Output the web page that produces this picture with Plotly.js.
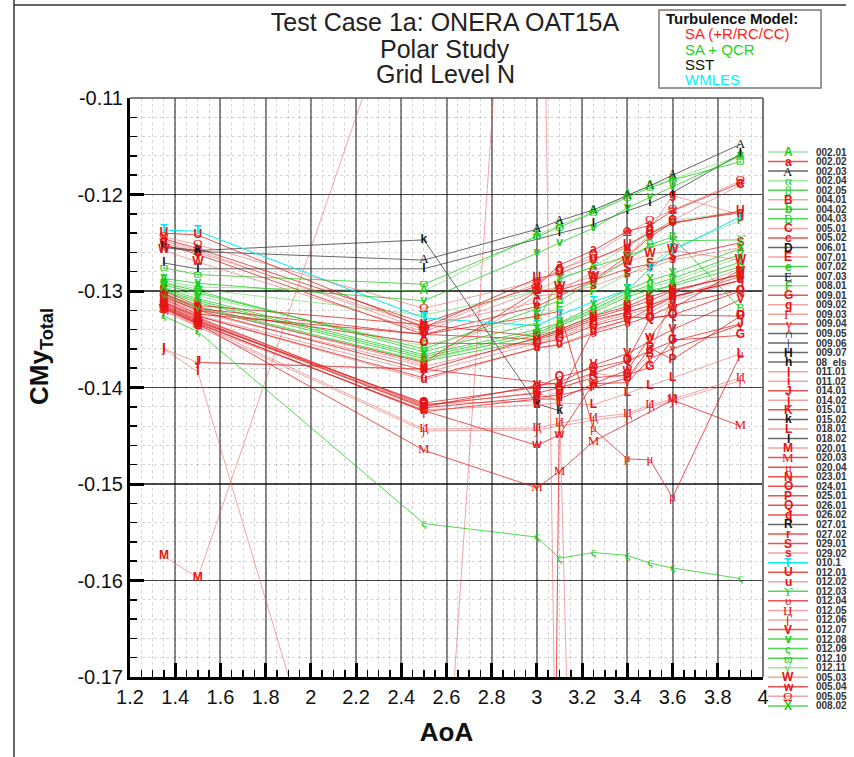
<!DOCTYPE html>
<html><head><meta charset="utf-8">
<script src="https://cdn.plot.ly/plotly-3.0.1.min.js"></script>
<style>body{margin:0;background:#fff}#chart{width:854px;height:757px}</style>
</head><body><div id="chart"></div>
<script>
// ---------- axes ----------
const aoa = [1.35, 1.5, 2.5, 3.0, 3.1, 3.25, 3.4, 3.5, 3.6, 3.9];
const xTickVals = [1.2,1.4,1.6,1.8,2.0,2.2,2.4,2.6,2.8,3.0,3.2,3.4,3.6,3.8,4.0];
const xTickText = ['1.2','1.4','1.6','1.8','2','2.2','2.4','2.6','2.8','3','3.2','3.4','3.6','3.8','4'];
const yTickVals = [-0.17,-0.16,-0.15,-0.14,-0.13,-0.12,-0.11];
const yTickText = ['-0.17','-0.16','-0.15','-0.14','-0.13','-0.12','-0.11'];

// ---------- legend entries ----------
const caseIds = ['002.01','002.02','002.03','002.04','002.05','004.01','004.02','004.03','005.01','005.02',
 '006.01','007.01','007.02','007.03','008.01','009.01','009.02','009.03','009.04','009.05',
 '009.06','009.07','08_els','011.01','011.02','014.01','014.02','015.01','015.02','018.01',
 '018.02','020.01','020.03','020.04','023.01','024.01','025.01','026.01','026.02','027.01',
 '027.02','029.01','029.02','010.1','012.01','012.02','012.03','012.04','012.05','012.06',
 '012.07','012.08','012.09','012.10','012.11','005.03','005.04','005.05','008.02'];
const glyphs = ['A','a','Α','α','β','B','b','Β','C','c',
 'D','E','e','Ε','F','G','g','Γ','γ','∩',
 '|','H','h','I','i','J','j','K','k','L',
 'l','M','Μ','μ','N','O','P','Q','q','R',
 'r','S','s','T','U','u','ϒ','υ','Ц','∫',
 'V','v','ς','ϖ','√','W','w','Ω','X'];
const models = ['QCR','SA','SST','QCR','QCR','SA','QCR','QCR','SA','SA',
 'SST','SA','QCR','SST','QCR','SA','SA','SA','SA','SST',
 'SST','SST','SST','SA','SA','SA','SA','SA','SST','SA',
 'SST','SA','SA','SA','SA','SA','SA','SA','SA','SST',
 'SA','SA','SA','WM','SA','SA','QCR','SA','SA','SA',
 'SA','QCR','QCR','QCR','QCR','SA','SA','SA','QCR'];
const shades = ['l','d','d','l','d','l','d','d','l','d',
 'd','l','d','d','l','d','l','l','d','d',
 'd','d','d','l','l','d','l','d','d','l',
 'd','l','d','d','d','d','d','d','d','d',
 'd','d','l','d','d','l','d','d','l','l',
 'd','d','d','d','l','l','d','l','d'];

// ---------- CMy values (null = no point) ----------
const N = null;
const cmy_002_01 = [-0.1289,-0.1296,-0.1300,-0.1242,-0.1232,-0.1218,-0.1201,-0.1191,-0.1184,-0.1160];
const cmy_002_02 = [-0.1246,-0.1256,-0.1333,-0.1295,-0.1273,-0.1258,-0.1238,-0.1232,-0.1217,-0.1188];
const cmy_002_03 = [-0.1255,-0.1259,-0.1268,-0.1236,-0.1227,-0.1216,-0.1201,-0.1191,-0.1180,-0.1148];
const cmy_002_04 = [-0.1291,-0.1298,-0.1325,-0.1300,-0.1288,-0.1275,-0.1254,-0.1240,-0.1227,-0.1218];
const cmy_002_05 = [-0.1299,-0.1310,-0.1368,-0.1343,-0.1334,-0.1319,-0.1302,-0.1294,-0.1287,-0.1262];
const cmy_004_01 = [-0.1313,-0.1329,-0.1417,-0.1414,-0.1404,-0.1385,-0.1390,-0.1365,-0.1306,-0.1285];
const cmy_004_02 = [-0.1300,-0.1312,-0.1370,-0.1346,-0.1336,-0.1322,-0.1306,-0.1299,-0.1295,-0.1275];
const cmy_004_03 = [-0.1294,-0.1302,-0.1360,-0.1318,-0.1310,-0.1290,-0.1268,-0.1252,-0.1244,-0.1318];
const cmy_005_01 = [-0.1250,-0.1260,-0.1336,-0.1312,-0.1300,-0.1280,-0.1262,-0.1242,-0.1227,-0.1190];
const cmy_005_02 = [-0.1252,-0.1262,-0.1345,-0.1316,-0.1305,-0.1289,-0.1264,-0.1244,-0.1229,-0.1219];
const cmy_006_01 = [N,N,N,N,N,N,N,N,N,N];
const cmy_007_01 = [-0.1307,-0.1322,-0.1378,-0.1352,-0.1346,-0.1332,-0.1322,-0.1315,-0.1303,-0.1277];
const cmy_007_02 = [-0.1303,-0.1316,-0.1373,-0.1350,-0.1340,-0.1326,-0.1312,-0.1302,-0.1293,-0.1270];
const cmy_007_03 = [N,N,N,N,N,N,N,N,N,N];
const cmy_008_01 = [-0.1296,-0.1305,-0.1357,-0.1326,-0.1318,-0.1301,-0.1283,-0.1272,-0.1256,-0.1227];
const cmy_009_01 = [-0.1312,-0.1328,-0.1418,-0.1406,-0.1400,-0.1390,-0.1387,-0.1379,-0.1351,-0.1346];
const cmy_009_02 = [-0.1248,-0.1258,-0.1340,-0.1292,-0.1277,-0.1266,-0.1255,-0.1236,-0.1201,-0.1221];
const cmy_009_03 = [-0.1309,-0.1325,-0.1385,-0.1354,-0.1348,-0.1334,-0.1324,-0.1318,-0.1308,-0.1285];
const cmy_009_04 = [-0.1317,-0.1333,-0.1425,-0.1412,-0.1412,-0.1396,-0.1395,-0.1370,-0.1360,-0.1335];
const cmy_009_05 = [N,N,N,N,N,N,N,N,N,N];
const cmy_009_06 = [N,N,N,N,N,N,N,N,N,N];
const cmy_009_07 = [N,N,N,N,N,N,N,N,N,N];
const cmy_08_els = [N,N,N,N,N,N,N,N,N,N];
const cmy_011_01 = [-0.1360,-0.1384,-0.2170,-0.0430,-0.2100,N,N,N,N,N];
const cmy_011_02 = [-0.1311,-0.1327,-0.1419,-0.1405,-0.1415,-0.2800,N,N,N,N];
const cmy_014_01 = [N,-0.1374,-0.1381,N,-0.1397,-0.1385,-0.1373,-0.1362,-0.1352,-0.1334];
const cmy_014_02 = [-0.1360,-0.1374,-0.1381,N,N,N,N,N,N,N];
const cmy_015_01 = [-0.1300,-0.1315,-0.1335,-0.1347,-0.1340,-0.1326,-0.1316,-0.1306,-0.1299,-0.1283];
const cmy_015_02 = [-0.1254,-0.1258,-0.1247,-0.1417,-0.1424,N,N,N,N,N];
const cmy_018_01 = [-0.1320,-0.1336,-0.1423,-0.1418,-0.1416,-0.1418,-0.1406,-0.1398,-0.1390,-0.1365];
const cmy_018_02 = [-0.1271,-0.1277,-0.1277,N,-0.1240,-0.1231,-0.1217,-0.1209,-0.1198,-0.1158];
const cmy_020_01 = [-0.1575,-0.1597,-0.0915,N,N,N,N,N,N,N];
const cmy_020_03 = [-0.1318,-0.1334,-0.1465,-0.1504,-0.1487,-0.1456,N,N,-0.1413,-0.1440];
const cmy_020_04 = [-0.1308,-0.1324,-0.1345,-0.1326,-0.1321,-0.1443,-0.1474,-0.1475,-0.1514,-0.1366];
const cmy_023_01 = [-0.1306,-0.1320,-0.1382,-0.1348,-0.1342,-0.1328,-0.1318,-0.1310,-0.1300,-0.1283];
const cmy_024_01 = [-0.1305,-0.1320,-0.1354,-0.1355,-0.1350,-0.1336,-0.1327,-0.1328,-0.1325,-0.1326];
const cmy_025_01 = [-0.1315,-0.1331,-0.1421,-0.1410,-0.1408,-0.1400,-0.1390,-0.1359,-0.1371,-0.1326];
const cmy_026_01 = [-0.1316,-0.1332,-0.1416,-0.1400,-0.1389,-0.1380,-0.1372,-0.1328,-0.1325,-0.1300];
const cmy_026_02 = [N,N,N,-0.3500,-0.1408,-0.1340,-0.1330,-0.1318,-0.1306,-0.1289];
const cmy_027_01 = [N,N,N,N,N,N,N,N,N,N];
const cmy_027_02 = [-0.1302,-0.1318,-0.1345,-0.1350,-0.1344,-0.1330,-0.1322,-0.1315,-0.1306,-0.1289];
const cmy_029_01 = [-0.1304,-0.1318,-0.1374,-0.1300,-0.1299,-0.1289,-0.1277,-0.1272,-0.1265,-0.1250];
const cmy_029_02 = [-0.1303,-0.1317,-0.1376,-0.1305,-0.1303,-0.1295,-0.1282,-0.1276,-0.1268,-0.1255];
const cmy_010_1  = [-0.1237,-0.1238,-0.1328,-0.1336,-0.1325,-0.1311,-0.1299,-0.1277,-0.1258,-0.1223];
const cmy_012_01 = [-0.1240,-0.1242,-0.1338,-0.1287,-0.1282,-0.1268,-0.1252,-0.1240,-0.1230,-0.1217];
const cmy_012_02 = [-0.1310,-0.1326,-0.1392,-0.1359,-0.1355,-0.1342,-0.1330,-0.1322,-0.1310,-0.1289];
const cmy_012_03 = [-0.1292,-0.1300,-0.1363,-0.1333,-0.1287,-0.1275,-0.1264,-0.1255,-0.1248,-0.1247];
const cmy_012_04 = [-0.1312,-0.1326,-0.1390,-0.1359,-0.1356,-0.1344,-0.1334,-0.1326,-0.1315,-0.1299];
const cmy_012_05 = [-0.1319,-0.1335,-0.1443,-0.1442,-0.1437,-0.1431,-0.1427,-0.1418,-0.1412,-0.1390];
const cmy_012_06 = [-0.1321,-0.1337,-0.1445,-0.1444,-0.1440,-0.1434,-0.1429,-0.1420,-0.1414,-0.1393];
const cmy_012_07 = [-0.1314,-0.1330,-0.1420,-0.1398,-0.1395,-0.1377,-0.1365,-0.1352,-0.1340,-0.1309];
const cmy_012_08 = [-0.1287,-0.1292,-0.1310,-0.1261,-0.1250,-0.1235,-0.1214,-0.1203,-0.1192,-0.1160];
const cmy_012_09 = [-0.1326,-0.1342,-0.1541,-0.1555,-0.1577,-0.1571,-0.1574,-0.1582,-0.1587,-0.1598];
const cmy_012_10 = [-0.1276,-0.1283,-0.1293,-0.1244,-0.1234,-0.1219,-0.1203,-0.1193,-0.1185,-0.1166];
const cmy_012_11 = [-0.1305,-0.1318,-0.1372,-0.1345,-0.1336,-0.1320,-0.1304,-0.1296,-0.1290,-0.1265];
const cmy_005_03 = [-0.1258,-0.1270,-0.1342,-0.1300,-0.1296,-0.1285,-0.1270,-0.1262,-0.1258,-0.1268];
const cmy_005_04 = [-0.1318,-0.1334,-0.1424,-0.1460,-0.1449,-0.1396,-0.1382,-0.1348,-0.1318,-0.1278];
const cmy_005_05 = [-0.1244,-0.1252,-0.1318,-0.1290,-0.1279,-0.1262,-0.1240,-0.1227,-0.1216,-0.1186];
const cmy_008_02 = [-0.1297,-0.1308,-0.1366,-0.1340,-0.1333,-0.1316,-0.1299,-0.1289,-0.1282,-0.1256];

const cmySeries = [cmy_002_01,cmy_002_02,cmy_002_03,cmy_002_04,cmy_002_05,cmy_004_01,cmy_004_02,cmy_004_03,cmy_005_01,cmy_005_02,
 cmy_006_01,cmy_007_01,cmy_007_02,cmy_007_03,cmy_008_01,cmy_009_01,cmy_009_02,cmy_009_03,cmy_009_04,cmy_009_05,
 cmy_009_06,cmy_009_07,cmy_08_els,cmy_011_01,cmy_011_02,cmy_014_01,cmy_014_02,cmy_015_01,cmy_015_02,cmy_018_01,
 cmy_018_02,cmy_020_01,cmy_020_03,cmy_020_04,cmy_023_01,cmy_024_01,cmy_025_01,cmy_026_01,cmy_026_02,cmy_027_01,
 cmy_027_02,cmy_029_01,cmy_029_02,cmy_010_1,cmy_012_01,cmy_012_02,cmy_012_03,cmy_012_04,cmy_012_05,cmy_012_06,
 cmy_012_07,cmy_012_08,cmy_012_09,cmy_012_10,cmy_012_11,cmy_005_03,cmy_005_04,cmy_005_05,cmy_008_02];

const modelNames = ['SA (+R/RC/CC)','SA + QCR','SST','WMLES'];
const modelKeys = ['SA','QCR','SST','WM'];
const yRange = [-0.17, -0.11];
const xRange = [1.2, 4.0];

// ---------- styling ----------
const SANS = 'Liberation Sans, Arial, Helvetica, sans-serif';
const SERIF = 'Liberation Serif, DejaVu Serif, serif';
const lineCol = {
  SA:  {d:'rgba(225,20,20,0.72)', l:'rgba(235,90,90,0.55)'},
  QCR: {d:'rgba(20,200,20,0.72)', l:'rgba(110,220,110,0.65)'},
  SST: {d:'rgba(40,40,40,0.7)',  l:'rgba(90,90,90,0.6)'},
  WM:  {d:'rgba(0,238,238,1)',   l:'rgba(0,238,238,1)'}
};
const textCol = {SA:'rgb(230,20,20)', QCR:'rgb(25,205,25)', SST:'rgb(20,20,20)', WM:'rgb(0,232,240)'};
const modelTextCol = {SA:'#ff1a1a', QCR:'#1ed21e', SST:'#111', WM:'#00f0ff'};
function isThin(g){ return /[\u0370-\u03FF\u0400-\u04FF∩∫√|]/.test(g); }

const traces = caseIds.map((id, i) => {
  const g = glyphs[i], m = models[i], ys = cmySeries[i];
  return {
    type: 'scatter', mode: 'lines+text', name: id,
    x: aoa, y: ys, connectgaps: true,
    text: ys.map(v => (v !== null && v >= yRange[0] && v <= yRange[1]) ? g : ''),
    textposition: 'middle center',
    textfont: {family: isThin(g) ? SERIF : SANS, size: isThin(g) ? 13 : 12,
               weight: isThin(g) ? 'normal' : 'bold', color: textCol[m]},
    line: {color: lineCol[m][shades[i]], width: 1},
    cliponaxis: true, showlegend: false, hoverinfo: 'skip'
  };
});

// ---------- pixel helpers for decorations ----------
const PL = 130, PR = 763, PT = 98, PB = 677;
const px = v => (v - PL) / (PR - PL);
const py = v => (PB - v) / (PB - PT);

const shapes = [];
const annotations = [];
// custom legend on right
caseIds.forEach((id, i) => {
  const yy = 152 + i * 9.55, m = models[i], g = glyphs[i];
  shapes.push({type:'line', xref:'paper', yref:'paper', x0:px(768), x1:px(808), y0:py(yy), y1:py(yy),
    line:{color: lineCol[m][shades[i]], width: 1.5}});
  annotations.push({xref:'paper', yref:'paper', x:px(788), y:py(yy), text:g, showarrow:false,
    xanchor:'center', yanchor:'middle',
    font:{family: isThin(g) ? SERIF : SANS, size: isThin(g) ? 13 : 12, weight: isThin(g) ? 'normal':'bold', color:textCol[m]}});
  annotations.push({xref:'paper', yref:'paper', x:px(814), y:py(yy), text:id, showarrow:false,
    xanchor:'left', yanchor:'middle', font:{family:SANS, size:10, weight:'bold', color:'#333'}});
});
// turbulence model box
shapes.push({type:'rect', xref:'paper', yref:'paper', x0:px(659), x1:px(821), y0:py(10), y1:py(88),
  line:{color:'#777', width:1.5}, fillcolor:'#fff'});
annotations.push({xref:'paper', yref:'paper', x:px(664), y:py(18), text:'<b>Turbulence Model:</b>', showarrow:false,
  xanchor:'left', yanchor:'middle', font:{family:SANS, size:15, color:'#111'}});
modelKeys.forEach((k, i) => {
  annotations.push({xref:'paper', yref:'paper', x:px(683), y:py(34 + i * 15.3), text:modelNames[i], showarrow:false,
    xanchor:'left', yanchor:'middle', font:{family:SANS, size:15, color:modelTextCol[k]}});
});
// title lines 2 and 3
annotations.push({xref:'paper', yref:'paper', x:px(445), y:py(49), text:'Polar Study', showarrow:false,
  xanchor:'center', yanchor:'middle', font:{family:SANS, size:25, color:'#222'}});
annotations.push({xref:'paper', yref:'paper', x:px(445), y:py(74), text:'Grid Level N', showarrow:false,
  xanchor:'center', yanchor:'middle', font:{family:SANS, size:25, color:'#222'}});
// y axis title
annotations.push({xref:'paper', yref:'paper', x:px(40), y:py(357), text:'<b>CMy<sub>Total</sub></b>', showarrow:false,
  textangle:-90, xanchor:'center', yanchor:'middle', font:{family:SANS, size:26, color:'#111'}});
// plot frame top/right and outer page frame
shapes.push({type:'line', xref:'paper', yref:'paper', x0:0, x1:1, y0:1, y1:1, line:{color:'#555', width:1.5}});
shapes.push({type:'line', xref:'paper', yref:'paper', x0:1, x1:1, y0:0, y1:1, line:{color:'#777', width:2}});
shapes.push({type:'line', xref:'paper', yref:'paper', x0:px(14), x1:px(14), y0:py(0), y1:py(757), line:{color:'#333', width:1.5}});
shapes.push({type:'line', xref:'paper', yref:'paper', x0:px(14), x1:px(846), y0:py(5), y1:py(5), line:{color:'#333', width:1.5}});

const layout = {
  width: 854, height: 757,
  margin: {l: PL, r: 854 - PR, t: PT, b: 757 - PB},
  paper_bgcolor: '#fff', plot_bgcolor: '#fff',
  showlegend: false,
  font: {family: SANS, color: '#111'},
  title: {text: 'Test Case 1a: ONERA OAT15A', font: {family: SANS, size: 25, color: '#222'},
          xref: 'paper', x: px(445), xanchor: 'center', yref: 'container', y: 1 - 22/757, yanchor: 'middle'},
  xaxis: {
    range: xRange, tickmode: 'array', tickvals: xTickVals, ticktext: xTickText,
    ticks: 'inside', ticklen: 14, tickwidth: 3, tickcolor: '#000',
    showline: true, linewidth: 3, linecolor: '#000',
    showgrid: true, gridcolor: 'rgba(0,0,0,0.45)', gridwidth: 2,
    zeroline: false, tickfont: {size: 20, color: '#111'},
    minor: {tickmode: 'linear', tick0: 1.2, dtick: 0.05, ticks: 'inside', ticklen: 7, tickwidth: 1.5, tickcolor: '#000',
            showgrid: true, gridcolor: 'rgba(0,0,0,0.16)', griddash: 'dot', gridwidth: 1},
    title: {text: '<b>AoA</b>', font: {size: 26, color: '#111'}, standoff: 16}
  },
  yaxis: {
    range: yRange, tickmode: 'array', tickvals: yTickVals, ticktext: yTickText,
    ticks: 'inside', ticklen: 14, tickwidth: 3, tickcolor: '#000',
    showline: true, linewidth: 3, linecolor: '#000',
    showgrid: true, gridcolor: 'rgba(0,0,0,0.7)', gridwidth: 1.3,
    zeroline: false, tickfont: {size: 20, color: '#111'},
    minor: {tickmode: 'linear', tick0: -0.17, dtick: 0.002, ticks: 'inside', ticklen: 7, tickwidth: 1.5, tickcolor: '#000',
            showgrid: true, gridcolor: 'rgba(0,0,0,0.16)', griddash: 'dot', gridwidth: 1}
  },
  shapes: shapes, annotations: annotations
};

Plotly.newPlot('chart', traces, layout, {staticPlot: true, displayModeBar: false});
</script>
</body></html>
